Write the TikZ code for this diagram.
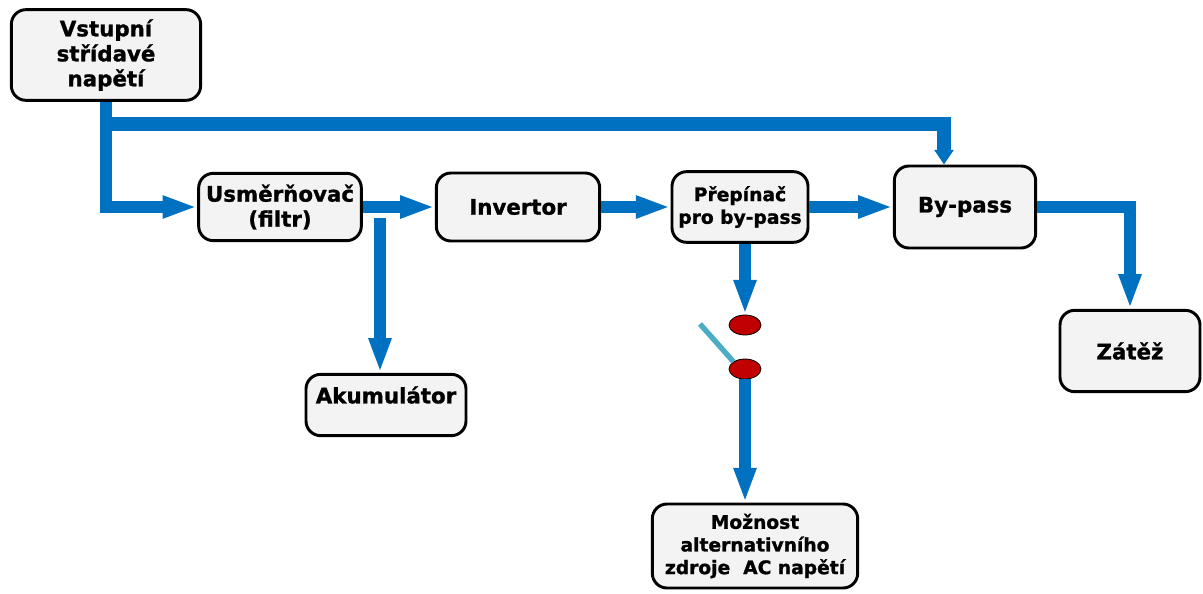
\documentclass[tikz,border=0pt]{standalone}
\usepackage{fontspec}
\setmainfont{DejaVu Sans}[BoldFeatures={FakeBold=1.2}]
\usetikzlibrary{arrows.meta,shapes.geometric}
\definecolor{flowblue}{HTML}{0070C0}
\definecolor{boxfill}{HTML}{F3F3F3}
\definecolor{dotred}{HTML}{C00000}
\definecolor{switchblue}{HTML}{4BACC6}
\tikzset{
  blk/.style={draw=black, line width=2.2pt, fill=boxfill, rounded corners=11pt, align=center, inner sep=2pt},
  bigtxt/.style={font=\fontsize{16}{18.75}\selectfont\bfseries},
  midtxt/.style={font=\fontsize{14}{17}\selectfont\bfseries},
  smalltxt/.style={font=\fontsize{14}{17}\selectfont\bfseries},
  flow/.style={draw=flowblue, line width=9.5pt, line join=miter, -{Triangle[length=26pt,width=15.5pt,fill=flowblue]}},
  flowshort/.style={draw=flowblue, line width=10pt, line join=miter, -{Triangle[length=11pt,width=14pt,fill=flowblue]}},
  dot/.style={draw=black, line width=0.6pt, fill=dotred, ellipse, minimum width=24pt, minimum height=15pt, inner sep=0pt}
}
\begin{document}
\begin{tikzpicture}[x=0.75pt,y=-0.75pt]
\useasboundingbox (0,0) rectangle (1203,593);
% boxes
\node[blk, bigtxt, minimum width=142pt, minimum height=68pt] (vst) at (106,55) {Vstupní\\střídavé\\napětí};
\node[blk, bigtxt, minimum width=122pt, minimum height=50.5pt] (usm) at (280,207) {Usměrňovač\\(filtr)};
\node[blk, bigtxt, minimum width=122.5pt, minimum height=51pt] (inv) at (518,207) {Invertor};
\node[blk, midtxt, minimum width=102pt, minimum height=53pt] (prep) at (740,207) {Přepínač\\pro by-pass};
\node[blk, bigtxt, minimum width=106pt, minimum height=61.5pt] (byp) at (965,207) {By-pass};
\node[blk, bigtxt, minimum width=105pt, minimum height=61pt] (zat) at (1130,351) {Zátěž};
\node[blk, minimum width=120pt, minimum height=46pt] (akum) at (386,405) {};
\node[bigtxt] (akumtxt) at (386,395) {Akumulátor};
\node[blk, smalltxt, minimum width=154pt, minimum height=63pt] (moz) at (755,546) {Možnost\\alternativního\\zdroje~ AC napětí};
% switch contacts
\node[dot] (e1) at (745,325) {};
\node[dot] (e2) at (745,369) {};
\coordinate (sw) at (700,324);
\draw[switchblue, line width=4pt] (sw) -- (e2.north west);
% connectors
\draw[flow] (vst.south) |- (usm.west);
\coordinate (t0) at (106,124);
\coordinate (t1) at (944,124);
\draw[flowshort] (t0) -- (t1) -- (t1 |- byp.north);
\draw[flow] (usm.east) -- (inv.west);
\coordinate (ak) at (380,218);
\draw[flow] (ak) -- (ak |- akum.north);
\draw[flow] (inv.east) -- (prep.west);
\draw[flow] (prep.east) -- (byp.west);
\draw[flow] (e1.north |- prep.south) -- (e1.north);
\draw[flow] (e2.south) -- (e2.south |- moz.north);
\draw[flow] (byp.east) -| (zat.north);
\end{tikzpicture}
\end{document}
